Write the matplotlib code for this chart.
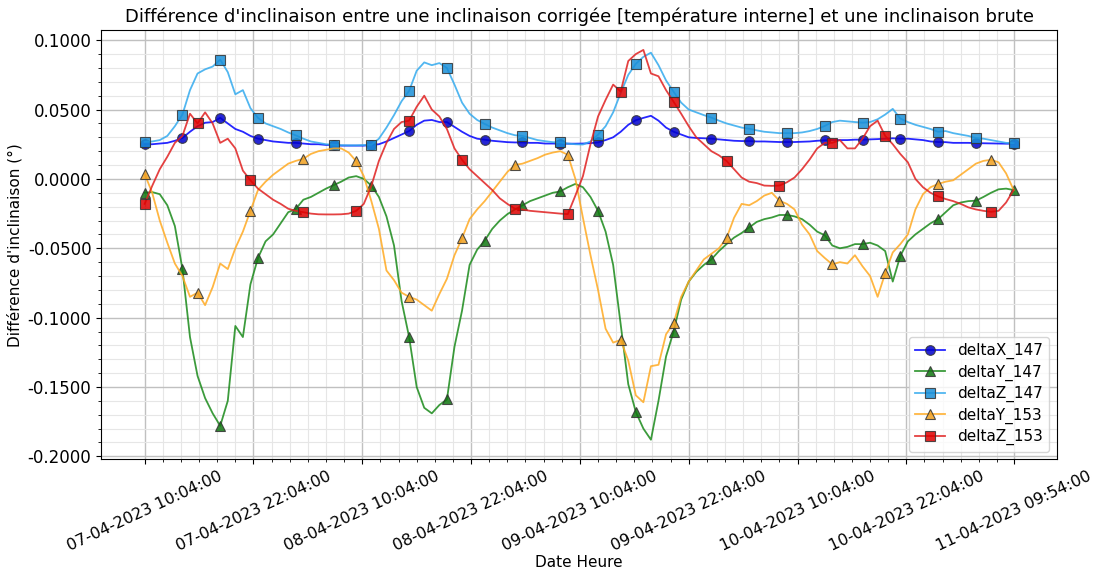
import matplotlib
matplotlib.use("Agg")
import matplotlib.pyplot as plt
from matplotlib.ticker import FormatStrFormatter, MultipleLocator
import numpy as np
import pandas as pd

# readings every 50 min, 07-04-2023 10:04 -> 11-04-2023 09:54
start = "2023-04-07 10:04:00"
n_points = 116

delta_x_147 = [
    0.025, 0.025, 0.0255, 0.026, 0.0275, 0.0295, 0.034, 0.038, 0.0405, 0.041,
    0.044, 0.040, 0.036, 0.034, 0.031, 0.029, 0.028, 0.027, 0.0265, 0.026,
    0.026, 0.0255, 0.025, 0.025, 0.0245, 0.0245, 0.024, 0.024, 0.024, 0.024,
    0.0245, 0.025, 0.027, 0.0295, 0.032, 0.0345, 0.039, 0.042, 0.0425, 0.041,
    0.041, 0.0375, 0.034, 0.031, 0.029, 0.0283, 0.0275, 0.027, 0.0265, 0.0263,
    0.0263, 0.026, 0.026, 0.0255, 0.0255, 0.0254, 0.0254, 0.0254, 0.0255, 0.0258,
    0.0263, 0.028, 0.030, 0.034, 0.039, 0.0423, 0.044, 0.0455, 0.042, 0.037,
    0.034, 0.032, 0.030, 0.0295, 0.0293, 0.029, 0.0285, 0.028, 0.0275, 0.0273,
    0.0273, 0.027, 0.027, 0.0268, 0.0266, 0.0266, 0.0266, 0.0268, 0.027, 0.0275,
    0.0278, 0.028, 0.028, 0.028, 0.0283, 0.0283, 0.0285, 0.0287, 0.029, 0.0293,
    0.029, 0.029, 0.0285, 0.028, 0.027, 0.0266, 0.0265, 0.026, 0.026, 0.026,
    0.0258, 0.0257, 0.0256, 0.0255, 0.0254, 0.0254,
]

delta_y_147 = [
    -0.010, -0.0095, -0.011, -0.019, -0.034, -0.065, -0.114, -0.142, -0.158, -0.169,
    -0.178, -0.160, -0.106, -0.114, -0.076, -0.057, -0.045, -0.040, -0.032, -0.024,
    -0.0217, -0.015, -0.013, -0.010, -0.007, -0.0045, -0.002, 0.001, 0.002, 0.000,
    -0.0048, -0.013, -0.027, -0.048, -0.088, -0.114, -0.150, -0.165, -0.169, -0.163,
    -0.159, -0.121, -0.095, -0.062, -0.051, -0.0445, -0.036, -0.030, -0.0254, -0.022,
    -0.019, -0.016, -0.014, -0.012, -0.010, -0.009, -0.006, -0.0036, -0.006, -0.013,
    -0.023, -0.038, -0.062, -0.105, -0.148, -0.168, -0.180, -0.188, -0.160, -0.128,
    -0.110, -0.087, -0.074, -0.067, -0.062, -0.058, -0.052, -0.047, -0.0423, -0.039,
    -0.035, -0.031, -0.029, -0.0278, -0.026, -0.026, -0.027, -0.029, -0.033, -0.038,
    -0.0406, -0.048, -0.050, -0.049, -0.047, -0.047, -0.046, -0.048, -0.052, -0.074,
    -0.0556, -0.045, -0.040, -0.036, -0.032, -0.029, -0.024, -0.019, -0.017, -0.016,
    -0.0157, -0.013, -0.010, -0.0075, -0.007, -0.008,
]

delta_z_147 = [
    0.0267, 0.027, 0.028, 0.031, 0.038, 0.0464, 0.064, 0.076, 0.079, 0.081,
    0.086, 0.077, 0.061, 0.064, 0.051, 0.044, 0.040, 0.038, 0.036, 0.0335,
    0.0314, 0.029, 0.027, 0.026, 0.025, 0.0246, 0.0243, 0.0242, 0.0242, 0.0244,
    0.0246, 0.029, 0.037, 0.046, 0.056, 0.0635, 0.078, 0.084, 0.082, 0.0835,
    0.080, 0.068, 0.055, 0.047, 0.0425, 0.0396, 0.037, 0.035, 0.033, 0.0315,
    0.031, 0.0295, 0.028, 0.0272, 0.0265, 0.0263, 0.0255, 0.025, 0.0248, 0.027,
    0.0319, 0.038, 0.048, 0.062, 0.075, 0.083, 0.088, 0.091, 0.082, 0.071,
    0.0628, 0.055, 0.050, 0.048, 0.046, 0.0442, 0.042, 0.040, 0.0385, 0.037,
    0.0362, 0.035, 0.034, 0.0335, 0.033, 0.033, 0.033, 0.0335, 0.0345, 0.036,
    0.0382, 0.041, 0.042, 0.0415, 0.041, 0.0406, 0.041, 0.043, 0.0464, 0.0505,
    0.0435, 0.041, 0.039, 0.0375, 0.036, 0.034, 0.0345, 0.033, 0.032, 0.031,
    0.0295, 0.029, 0.028, 0.027, 0.026, 0.0258,
]

delta_y_153 = [
    0.0036, -0.010, -0.030, -0.046, -0.061, -0.070, -0.085, -0.082, -0.091, -0.078,
    -0.061, -0.065, -0.050, -0.038, -0.023, -0.008, -0.002, 0.003, 0.007, 0.011,
    0.013, 0.0145, 0.018, 0.020, 0.021, 0.022, 0.022, 0.019, 0.0128, 0.002,
    -0.016, -0.036, -0.066, -0.073, -0.082, -0.085, -0.087, -0.091, -0.095, -0.083,
    -0.072, -0.055, -0.0428, -0.029, -0.022, -0.016, -0.009, -0.002, 0.005, 0.0101,
    0.011, 0.013, 0.015, 0.0175, 0.019, 0.020, 0.0174, 0.000, -0.028, -0.055,
    -0.080, -0.108, -0.118, -0.116, -0.131, -0.156, -0.161, -0.135, -0.134, -0.112,
    -0.104, -0.085, -0.074, -0.066, -0.058, -0.054, -0.050, -0.0428, -0.028, -0.018,
    -0.019, -0.016, -0.012, -0.010, -0.0157, -0.018, -0.022, -0.033, -0.040, -0.052,
    -0.057, -0.0616, -0.060, -0.061, -0.055, -0.063, -0.070, -0.085, -0.068, -0.053,
    -0.047, -0.040, -0.022, -0.011, -0.006, -0.0036, -0.002, -0.001, 0.003, 0.007,
    0.011, 0.013, 0.0138, 0.012, 0.004, -0.008,
]

delta_z_153 = [
    -0.018, -0.005, 0.007, 0.016, 0.026, 0.031, 0.047, 0.040, 0.048, 0.040,
    0.026, 0.029, 0.022, 0.006, -0.001, -0.007, -0.011, -0.015, -0.018, -0.0215,
    -0.023, -0.024, -0.025, -0.0255, -0.0256, -0.0256, -0.0255, -0.025, -0.023, -0.018,
    -0.005, 0.013, 0.026, 0.036, 0.041, 0.042, 0.052, 0.060, 0.050, 0.045,
    0.036, 0.022, 0.0138, 0.007, 0.002, -0.003, -0.008, -0.014, -0.018, -0.0215,
    -0.022, -0.023, -0.0235, -0.024, -0.0245, -0.025, -0.0254, -0.012, 0.002, 0.025,
    0.045, 0.057, 0.068, 0.063, 0.085, 0.090, 0.093, 0.076, 0.074, 0.064,
    0.0556, 0.047, 0.038, 0.030, 0.025, 0.020, 0.017, 0.013, 0.007, 0.001,
    -0.002, -0.003, -0.0048, -0.005, -0.0048, -0.0024, 0.001, 0.007, 0.014, 0.022,
    0.026, 0.026, 0.028, 0.022, 0.022, 0.029, 0.038, 0.042, 0.031, 0.025,
    0.018, 0.012, 0.000, -0.006, -0.010, -0.0126, -0.0145, -0.016, -0.018, -0.0205,
    -0.022, -0.023, -0.0237, -0.023, -0.017, -0.008,
]

tick_labels = [
    "07-04-2023 10:04:00", "07-04-2023 22:04:00", "08-04-2023 10:04:00",
    "08-04-2023 22:04:00", "09-04-2023 10:04:00", "09-04-2023 22:04:00",
    "10-04-2023 10:04:00", "10-04-2023 22:04:00", "11-04-2023 09:54:00",
]

times = pd.date_range(start, periods=n_points, freq="50min")
tick_times = pd.to_datetime(tick_labels, format="%d-%m-%Y %H:%M:%S")

series = [
    ("deltaX_147", delta_x_147, "#0000ff", "#0000cc", "o", 5),
    ("deltaY_147", delta_y_147, "#1a8a1a", "#117711", "^", 5),
    ("deltaZ_147", delta_z_147, "#33aaee", "#1a8fd8", "s", 5),
    ("deltaY_153", delta_y_153, "#ffaa22", "#f0a020", "^", 7),
    ("deltaZ_153", delta_z_153, "#e02020", "#dd0000", "s", 7),
]

fig, ax = plt.subplots(figsize=(11, 5.74), dpi=100)
for name, values, line_color, face, marker, every in series:
    ax.plot(times, values, color=line_color, alpha=0.85, linewidth=1.3,
            marker=marker, markevery=every, markersize=7,
            markerfacecolor=face, markeredgecolor="#333333",
            markeredgewidth=0.8, label=name)

ax.set_xticks(tick_times, tick_labels, rotation=25, fontsize=11.5)
ax.set_xticks(pd.date_range(times[0], times[-1], freq="2h"), minor=True)
ax.yaxis.set_major_locator(MultipleLocator(0.05))
ax.yaxis.set_minor_locator(MultipleLocator(0.01))
ax.yaxis.set_major_formatter(FormatStrFormatter("%.4f"))
ax.tick_params(axis="y", labelsize=12)
ax.grid(which="major", color="#c0c0c0", linewidth=1.0)
ax.grid(which="minor", color="#e6e6e6", linewidth=0.8)
ax.set_axisbelow(True)

ax.set_title("Différence d'inclinaison entre une inclinaison corrigée [température interne] et une inclinaison brute",
             fontsize=13)
ax.set_xlabel("Date Heure", fontsize=11, labelpad=1)
ax.set_ylabel("Différence d'inclinaison (°)", fontsize=11)
ax.legend(loc="lower right", fontsize=11, labelspacing=0.35)

fig.subplots_adjust(left=0.092, right=0.961, top=0.947, bottom=0.2)
fig.savefig("out.png", dpi=100)
